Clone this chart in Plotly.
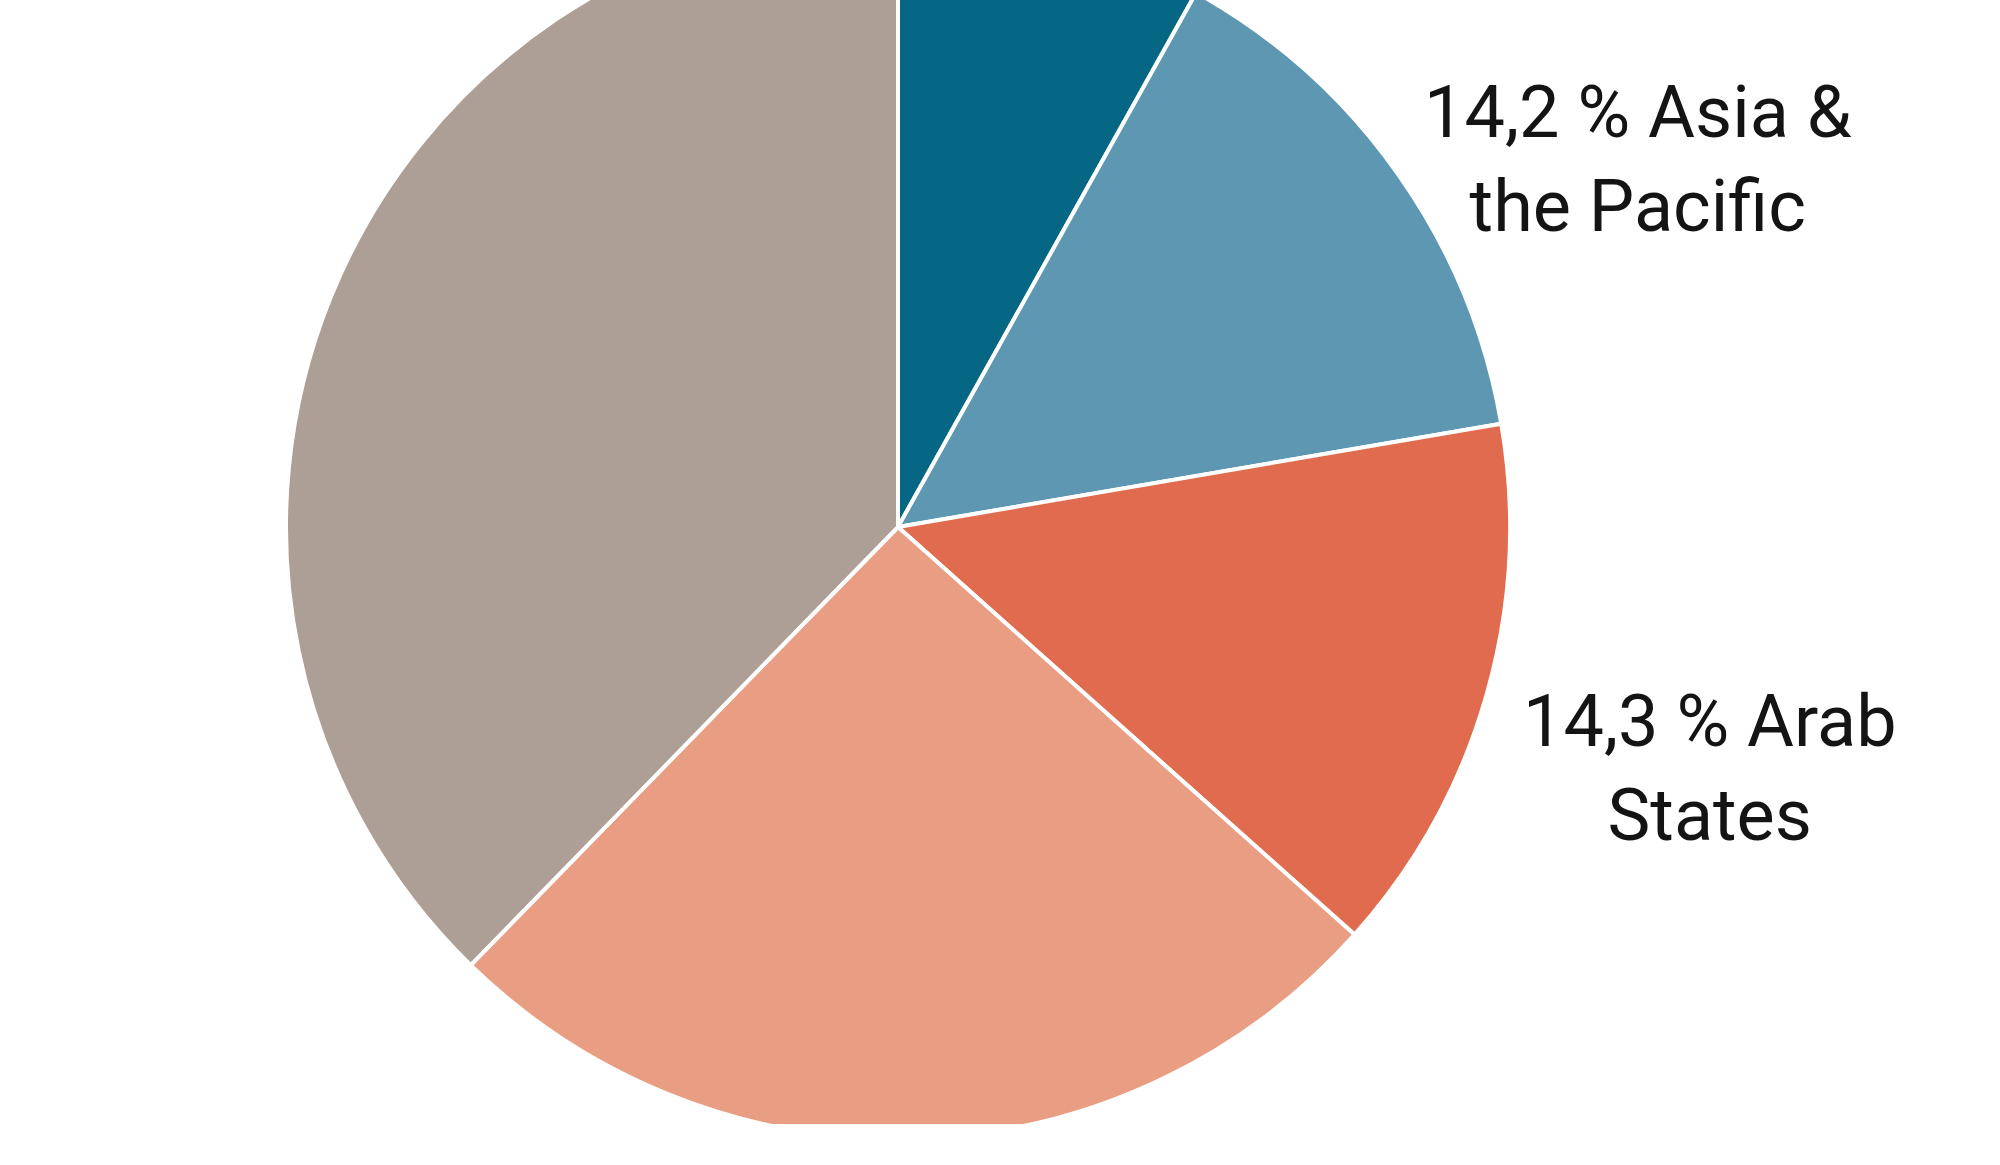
import plotly.graph_objects as go

# ---- data ----
regions = ["Latin America & the Caribbean", "Asia & the Pacific", "Arab States",
           "Africa", "Europe & North America"]
shares = [8.1, 14.2, 14.3, 25.7, 37.7]
slice_colors = ["#066784", "#5e97b2", "#e06b4e", "#e99e83", "#ad9e96"]
label_texts = ["14,2 % Asia &<br>the Pacific", "14,3 % Arab<br>States"]

# ---- layout geometry (page pixels) ----
W, OFF = 2000, 100
H = 1165 + OFF
ML, MR, MT, MB = 286, 490, 15, 26
PW, PH = W - ML - MR, H - MT - MB


def px_to_paper(x, y_page):
    fy = y_page + OFF
    return (x - ML) / PW, (H - MB - fy) / PH


fig = go.Figure(go.Pie(
    labels=regions,
    values=shares,
    sort=False,
    direction="clockwise",
    rotation=0,
    marker=dict(colors=slice_colors, line=dict(color="white", width=4)),
    textinfo="none",
    hoverinfo="label+percent",
    showlegend=False,
))

label_pos = [(1638, 160), (1710, 768)]
for txt, (lx, ly) in zip(label_texts, label_pos):
    ax, ay = px_to_paper(lx, ly)
    fig.add_annotation(x=ax, y=ay, xref="paper", yref="paper", text=txt,
                       showarrow=False, align="center", xanchor="center",
                       yanchor="middle",
                       font=dict(family="Roboto", size=72, color="#141414"))

# white band below the visible pie (the original picture is clipped there)
_, clip_y = px_to_paper(0, 1124)
fig.add_shape(type="rect", xref="paper", yref="paper", x0=-1, x1=2,
              y0=-1, y1=clip_y, fillcolor="white", line=dict(width=0),
              layer="above")

fig.update_layout(
    width=W, height=H,
    margin=dict(l=ML, r=MR, t=MT, b=MB, pad=0),
    paper_bgcolor="white", plot_bgcolor="white",
)

post = (
    "document.documentElement.style.overflow='hidden';"
    "document.body.style.margin='0';document.body.style.overflow='hidden';"
    "var d=document.getElementById('{plot_id}');"
    "d.style.position='relative';d.style.top='-" + str(OFF) + "px';"
)
fig.write_html("out.html", post_script=post)
